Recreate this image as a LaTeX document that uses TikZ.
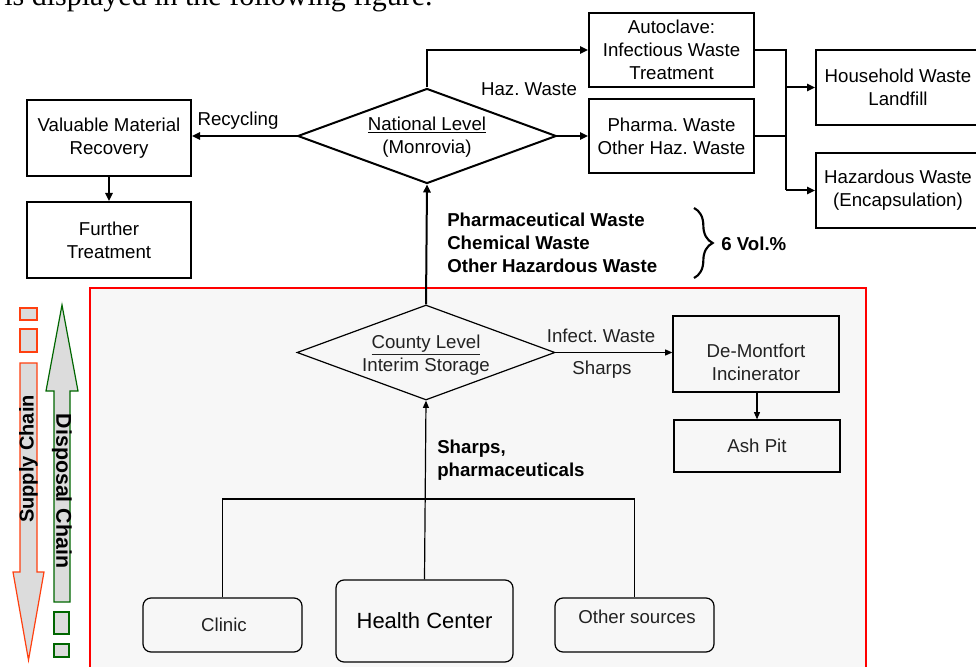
\documentclass[tikz,border=0pt]{standalone}
\usepackage{fontspec}
\setmainfont{Liberation Sans}
\newfontfamily\serifx{Liberation Serif}
\usetikzlibrary{shapes.geometric,arrows.meta,decorations.pathreplacing}
\definecolor{panelgray}{HTML}{F7F7F7}
\definecolor{arrowgray}{HTML}{DCDCDC}
\definecolor{supplyred}{HTML}{FF4010}
\definecolor{disposalgreen}{HTML}{006600}
\definecolor{paneltext}{HTML}{222222}
\frenchspacing
\begin{document}
\begin{tikzpicture}[x=0.75pt,y=-0.75pt,
  txt/.style={font=\fontsize{14}{17.25}\selectfont, align=center, inner sep=0pt},
  btxt/.style={font=\bfseries\fontsize{14}{17.25}\selectfont, align=left, inner sep=0pt, anchor=west},
  topbox/.style={draw, line width=1.5pt, minimum width=123pt, minimum height=57pt, inner sep=0pt, txt},
  pbox/.style={draw, line width=0.9pt, inner sep=0pt, txt, text=paneltext},
  rbox/.style={draw, line width=0.9pt, rounded corners=6pt, inner sep=0pt, txt, text=paneltext},
  dia/.style={diamond, draw, inner sep=0pt, minimum width=194pt, minimum height=71.25pt},
  tarr/.style={line width=1.5pt, -{Triangle[length=6pt,width=5.5pt]}},
  tline/.style={line width=1.5pt},
  parr/.style={line width=0.9pt, -{Triangle[length=5.5pt,width=4.5pt]}},
  pline/.style={line width=0.9pt},
]
\useasboundingbox (0,0) rectangle (976,667);
\clip (0,0) rectangle (976,667);

% cut-off line of text from the page
\node[anchor=base west, inner sep=0pt, font=\serifx\fontsize{22.5}{27}\selectfont] (toptext) at (4,6) {is displayed in the following figure.};

% grey panel with red frame
\draw[red, line width=1.2pt, fill=panelgray] (90,288) rectangle (866,690);

% ---------- upper part ----------
\node[topbox] (vmr) at (109,138) {Valuable Material\\Recovery};
\node[topbox] (ft)  at (109,240) {Further\\Treatment};
\node[dia, line width=1.5pt] (nat) at (427,136) {};
\node[txt] (natt) at (427,137) {\underline{National Level}\\(Monrovia)};
\node[topbox, minimum width=123.75pt, minimum height=55.5pt] (auto) at (671.5,50) {Autoclave:\\Infectious Waste\\Treatment};
\node[topbox, minimum width=123.75pt, minimum height=55.5pt] (pharma) at (671.5,136) {Pharma. Waste\\Other Haz. Waste};
\node[topbox, minimum height=56.25pt] (house) at (898,87.5) {Household Waste\\Landfill};
\node[topbox, minimum height=56.25pt] (hazw) at (898,190.5) {Hazardous Waste\\(Encapsulation)};

\draw[tarr] (nat.west) -- (nat.west -| vmr.east);
\node[txt] (recl) at (238,121) {Recycling};
\draw[tarr] (vmr.south) -- (ft.north);
\draw[tarr] (nat.north) |- (auto.west);
\draw[tarr] (nat.east) -- (pharma.west);
\node[txt] (hazl) at (529,89) {Haz. Waste};

\coordinate (jx) at (786,0);
\draw[tline] (auto.east) -- (auto.east -| jx) -- (jx |- hazw.west);
\draw[tline] (pharma.east) -- (pharma.east -| jx);
\draw[tarr] (jx |- house.west) -- (house.west);
\draw[tarr] (jx |- hazw.west) -- (hazw.west);

% hazardous fraction
\node[btxt] (hazlist) at (447,243) {Pharmaceutical Waste\\Chemical Waste\\Other Hazardous Waste};
\draw[line width=1.6pt, decorate, decoration={brace, amplitude=14pt}] (694,208) -- (694,278);
\node[btxt] (vol) at (721,244) {6 Vol.\%};

% ---------- county level ----------
\node[dia, line width=0.9pt, minimum width=193.5pt] (cty) at (426,352.5) {};
\node[txt, text=paneltext] (ctyt) at (426,355) {\underline{County Level}\\Interim Storage};
\draw[tarr] (cty.north) -- (nat.south);

\node[pbox, minimum width=124.5pt, minimum height=57pt] (demo) at (756,354) {};
\node[txt, text=paneltext] (demot) at (756,362) {De-Montfort\\Incinerator};
\node[pbox, minimum width=124.5pt, minimum height=39pt] (ash) at (757,446) {Ash Pit};
\draw[parr] (cty.east) -- (cty.east -| demo.west);
\node[txt, text=paneltext] (infl) at (601,336) {Infect. Waste};
\node[txt, text=paneltext] (shl) at (602,370) {Sharps};
\draw[parr] (demo.south -| ash.north) -- (ash.north);

% sources
\node[rbox, minimum width=119.25pt, minimum height=40.5pt] (clinic) at (222.5,625) {};
\node[txt, text=paneltext] (clinict) at (224,625) {Clinic};
\node[rbox, minimum width=132.75pt, minimum height=61.5pt, font=\fontsize{16.5}{20}\selectfont, text=black] (hc) at (424.5,621) {Health Center};
\node[rbox, minimum width=119.25pt, minimum height=40.5pt] (other) at (634.5,625) {};
\node[txt, text=paneltext] (othert) at (637,617) {Other sources};

\coordinate (jb) at (426,499);
\draw[pline] (clinic.north) -- (clinic.north |- jb) -- (other.north |- jb) -- (other.north);
\draw[parr] (hc.north) -- (cty.south);
\node[btxt] (shph) at (437,460) {Sharps,\\pharmaceuticals};

% ---------- chain arrows ----------
\draw[supplyred, line width=0.9pt, fill=arrowgray] (20,308) rectangle (37,320);
\draw[supplyred, line width=0.9pt, fill=arrowgray] (20,329) rectangle (37,352);
\draw[supplyred, line width=0.9pt, fill=arrowgray]
  (20,363) -- (37,363) -- (37,572) -- (44,572) -- (28.5,660) -- (13,572) -- (20,572) -- cycle;
\node[rotate=90, inner sep=0pt, font=\bfseries\fontsize{15}{18}\selectfont] (supply) at (28.5,459) {Supply Chain};

\draw[disposalgreen, line width=0.9pt, fill=arrowgray]
  (62,305) -- (78,391) -- (70,391) -- (70,602) -- (54,602) -- (54,391) -- (46,391) -- cycle;
\draw[disposalgreen, line width=0.9pt, fill=arrowgray] (54,612) rectangle (69,634);
\draw[disposalgreen, line width=0.9pt, fill=arrowgray] (54,644) rectangle (69,657);
\node[rotate=-90, inner sep=0pt, font=\bfseries\fontsize{16}{19}\selectfont] (disposal) at (62,491) {Disposal Chain};
\end{tikzpicture}
\end{document}
